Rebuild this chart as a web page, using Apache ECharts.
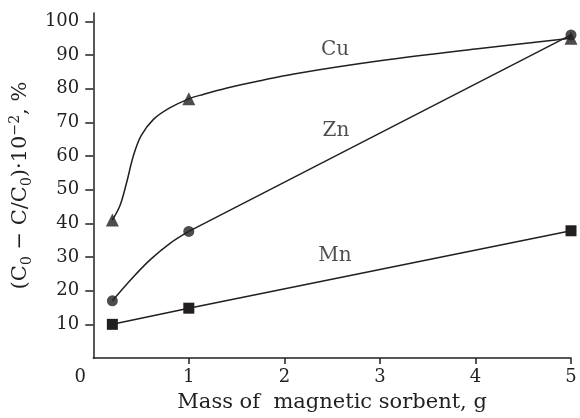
<!DOCTYPE html>
<html>
<head>
<meta charset="utf-8">
<script src="https://cdn.jsdelivr.net/npm/echarts@6/dist/echarts.min.js"></script>
<style>
  html, body { margin: 0; padding: 0; background: #fff; }
  #chart { width: 580px; height: 418px; }
</style>
</head>
<body>
<div id="chart"></div>
<script>
// measured points (mass of sorbent, g)
const mass = [0.2, 1, 5]
const cu = [41, 77, 95]
const zn = [17, 37.6, 96]
const mn = [10, 14.8, 37.8]

// fitted curves as drawn in the figure
const cuCurveX = [0.2, 0.28, 0.35, 0.42, 0.5, 0.63, 0.8, 1, 1.15, 1.4, 1.75, 2.1, 3, 4, 5]
const cuCurveY = [41, 45.3, 52.2, 60.1, 66, 70.9, 74.3, 77, 78.3, 80.2, 82.4, 84.4, 88.3, 91.8, 95]
const znCurveX = [0.2, 0.4, 0.6, 0.8, 1]
const znCurveY = [17, 23.5, 29.3, 34, 37.6]

const xTicks = [1, 2, 3, 4, 5]
const xLabels = [0, 1, 2, 3, 4, 5]
const yTicks = [10, 20, 30, 40, 50, 60, 70, 80, 90, 100]

const curveNames = ['Cu', 'Zn', 'Mn']
const curveNameX = [2.53, 2.54, 2.53]
const curveNameY = [91.6, 67.4, 30.4]

const INK = '#231f20'
const FONT = 'DejaVu Serif'
const zip = (xs, ys) => xs.map((x, i) => [x, ys[i]])
const lineStyle = { color: INK, width: 1.5 }

const chart = echarts.init(document.getElementById('chart'))
chart.setOption({
  animation: false,
  textStyle: { fontFamily: FONT, color: INK },
  grid: { left: 90, right: 9, top: 13, bottom: 58 },
  xAxis: {
    type: 'value', min: 0, max: 5,
    name: 'Mass of  magnetic sorbent, g',
    nameLocation: 'middle', nameGap: 34,
    nameTextStyle: { fontFamily: FONT, fontSize: 21, color: INK },
    axisLine: { lineStyle: lineStyle },
    axisTick: { inside: false, length: 6, lineStyle: lineStyle, customValues: xTicks },
    axisLabel: {
      customValues: xLabels, margin: 10, fontFamily: FONT, fontSize: 18, color: INK,
      formatter: v => v === 0 ? '{o|0}' : String(v),
      rich: { o: { fontFamily: FONT, fontSize: 18, color: INK, padding: [0, 26, 0, 0] } },
    },
    splitLine: { show: false },
  },
  yAxis: {
    type: 'value', min: 0, max: 102.5,
    name: '(C{sub|0} − C/C{sub|0})·10{sup|−2}, %',
    nameLocation: 'middle', nameGap: 58, nameRotate: 90,
    nameTextStyle: {
      fontFamily: FONT, fontSize: 21, color: INK, lineHeight: 26,
      rich: {
        sub: { fontFamily: FONT, fontSize: 14, color: INK, verticalAlign: 'bottom', lineHeight: 26 },
        sup: { fontFamily: FONT, fontSize: 14, color: INK, verticalAlign: 'top', lineHeight: 26 },
      },
    },
    axisLine: { show: true, lineStyle: lineStyle },
    axisTick: { show: true, inside: false, length: 8, lineStyle: lineStyle, customValues: yTicks },
    axisLabel: { customValues: yTicks, margin: 14, fontFamily: FONT, fontSize: 18, color: INK },
    splitLine: { show: false },
  },
  series: [
    { type: 'line', data: zip(cuCurveX, cuCurveY), smooth: 0.35, showSymbol: false, lineStyle, z: 2 },
    { type: 'line', data: zip(znCurveX, znCurveY), smooth: 0.35, showSymbol: false, lineStyle, z: 2 },
    { type: 'line', data: zip(mass.slice(1), zn.slice(1)), showSymbol: false, lineStyle, z: 2 },
    {
      type: 'line', data: zip(mass, mn), symbol: 'rect', symbolSize: 11, showAllSymbol: true,
      itemStyle: { color: INK }, lineStyle, z: 3,
    },
    { type: 'scatter', data: zip(mass, cu), symbol: 'triangle', symbolSize: 13, itemStyle: { color: INK }, z: 3 },
    { type: 'scatter', data: zip(mass, zn), symbol: 'circle', symbolSize: 11, itemStyle: { color: INK }, z: 4 },
    {
      type: 'scatter', symbolSize: 0, silent: true, z: 5,
      data: curveNames.map((n, i) => ({ name: n, value: [curveNameX[i], curveNameY[i]] })),
      label: { show: true, position: 'inside', formatter: p => p.name, fontFamily: FONT, fontSize: 20, color: INK },
    },
  ],
})
</script>
</body>
</html>
